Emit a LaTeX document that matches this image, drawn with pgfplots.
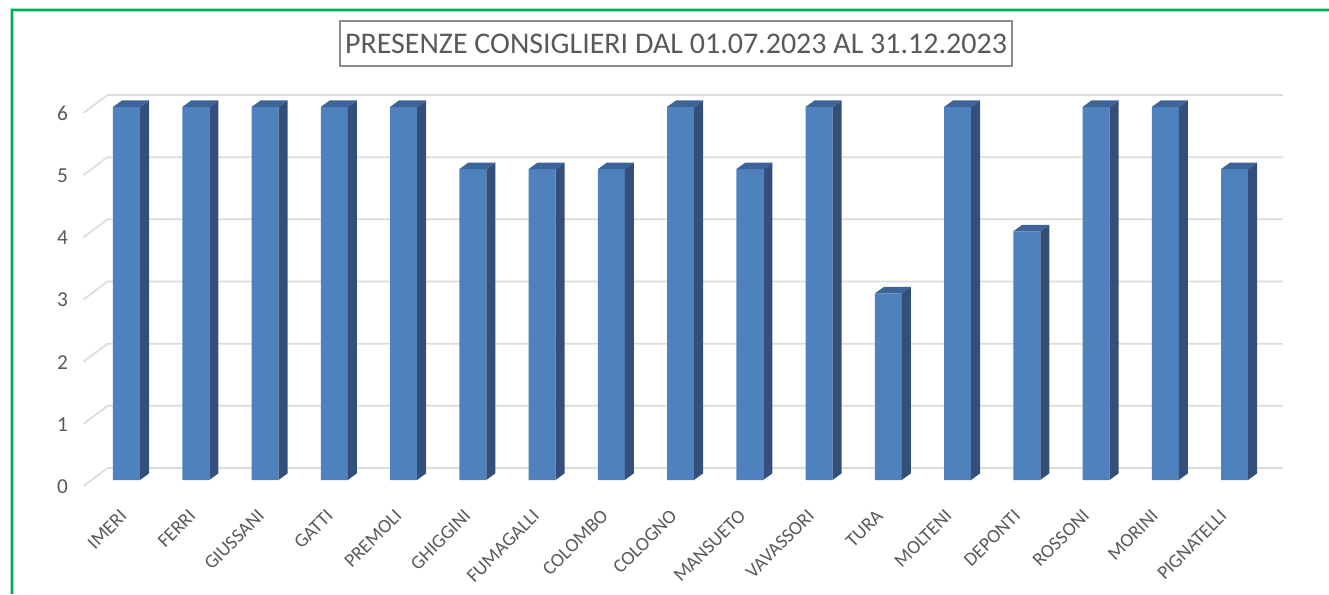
\documentclass[border=0pt]{standalone}
\usepackage{pgfplots}
\pgfplotsset{compat=1.18}
\usepackage{fontspec}
\setmainfont{Carlito}
\definecolor{frontc}{HTML}{4F81BD}
\definecolor{sidec}{HTML}{34507A}
\definecolor{topc}{HTML}{3C6498}
\definecolor{gridc}{HTML}{DCDCDC}
\definecolor{txtc}{HTML}{595959}
\definecolor{framec}{HTML}{00B050}
\definecolor{boxc}{HTML}{8C8C8C}

\newcommand\hw{10.125}
\newcommand\ddx{6.75}
\newcommand\ddy{4.9}
\newcommand\yu{46.6275}
\pgfdeclareplotmark{barthree}{%
  \pgfmathsetmacro\hh{\rawy*\yu}%
  \pgfsetfillcolor{sidec}%
  \pgfpathmoveto{\pgfpoint{\hw pt}{0pt}}%
  \pgfpathlineto{\pgfpoint{\hw pt+\ddx pt}{\ddy pt}}%
  \pgfpathlineto{\pgfpoint{\hw pt+\ddx pt}{\ddy pt-\hh pt}}%
  \pgfpathlineto{\pgfpoint{\hw pt}{-\hh pt}}%
  \pgfpathclose
  \pgfusepath{fill}%
  \pgfsetfillcolor{topc}%
  \pgfpathmoveto{\pgfpoint{-\hw pt}{0pt}}%
  \pgfpathlineto{\pgfpoint{\hw pt}{0pt}}%
  \pgfpathlineto{\pgfpoint{\hw pt+\ddx pt}{\ddy pt}}%
  \pgfpathlineto{\pgfpoint{-\hw pt+\ddx pt}{\ddy pt}}%
  \pgfpathclose
  \pgfusepath{fill}%
}

\pgfplotstableread{
x y
0 6
1 6
2 6
3 6
4 6
5 5
6 5
7 5
8 6
9 5
10 6
11 3
12 6
13 4
14 6
15 6
16 5
}\presenze

\begin{document}
\begin{tikzpicture}
\draw[framec!35, line width=2.6pt] (9pt,-445.5pt) -- (9pt,-7.5pt) -- (996.75pt,-7.5pt);
\draw[framec, line width=1.3pt] (9pt,-445.5pt) -- (9pt,-7.5pt) -- (996.75pt,-7.5pt);
\begin{axis}[
  at={(94.875pt,-360pt)}, anchor=origin,
  x=51.9375pt, y=46.6275pt,
  xmin=-0.63, xmax=16.72, ymin=-0.1, ymax=6.2,
  clip=false,
  axis lines*=left,
  axis line style={draw=none},
  major tick length=0pt,
  xtick={0.007,1.000,1.993,2.985,3.978,4.971,5.964,6.957,7.949,8.942,9.935,10.928,11.921,12.913,13.906,14.899,15.892},
  xticklabels={IMERI,FERRI,GIUSSANI,GATTI,PREMOLI,GHIGGINI,FUMAGALLI,COLOMBO,COLOGNO,MANSUETO,VAVASSORI,TURA,MOLTENI,DEPONTI,ROSSONI,MORINI,PIGNATELLI},
  ytick={0,1,2,3,4,5,6},
  yticklabels={0,1,2,3,4,5,6},
  /pgf/number format/assume math mode=true,
  yticklabel style={anchor=east, inner sep=0pt, xshift=-11pt, yshift=-4.9pt, text=txtc, font=\fontsize{16}{19}\selectfont},
  xticklabel style={xshift=-2.5pt, yshift=-20pt, rotate=45, anchor=east, inner sep=0pt, text=txtc, font=\fontsize{14.5}{17}\selectfont},
]
\addplot[gridc, line width=1.3pt] coordinates {(-0.621,-0.0965) (-0.274,0.193) (16.70,0.193)};
\addplot[gridc, line width=1.3pt] coordinates {(-0.621,0.9035) (-0.274,1.193) (16.70,1.193)};
\addplot[gridc, line width=1.3pt] coordinates {(-0.621,1.9035) (-0.274,2.193) (16.70,2.193)};
\addplot[gridc, line width=1.3pt] coordinates {(-0.621,2.9035) (-0.274,3.193) (16.70,3.193)};
\addplot[gridc, line width=1.3pt] coordinates {(-0.621,3.9035) (-0.274,4.193) (16.70,4.193)};
\addplot[gridc, line width=1.3pt] coordinates {(-0.621,4.9035) (-0.274,5.193) (16.70,5.193)};
\addplot[gridc, line width=1.3pt] coordinates {(-0.621,5.9035) (-0.274,6.193) (16.70,6.193)};
\addplot[ybar, bar width=20.25pt, fill=frontc, draw=none] table[x=x, y=y] {\presenze};
\addplot[only marks, mark=barthree, visualization depends on={rawy \as \rawy}] table[x=x, y=y] {\presenze};
\end{axis}
\node[draw=boxc, line width=1pt, text=txtc, font=\fontsize{22.5}{27}\selectfont, minimum width=504pt, minimum height=33.75pt, inner sep=0pt] at (507pt,-32.6pt) {PRESENZE CONSIGLIERI DAL 01.07.2023 AL 31.12.2023};
\pgfresetboundingbox
\path[use as bounding box] (0pt,0pt) rectangle (996.75pt,-445.5pt);
\end{tikzpicture}
\end{document}
